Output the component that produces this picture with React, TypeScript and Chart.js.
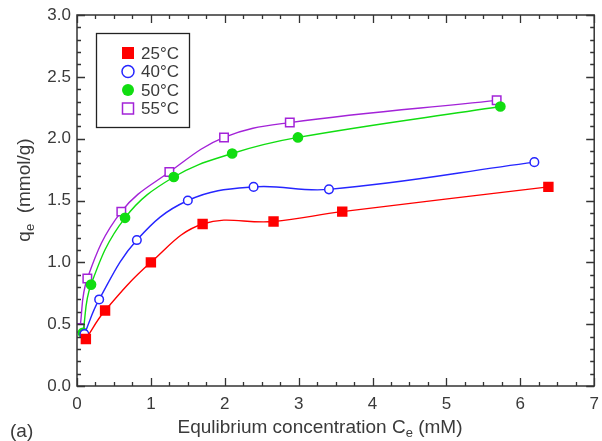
import React, { useEffect, useRef } from "react";
import { Chart, registerables } from "chart.js";
Chart.register(...registerables);

const x25 = [0.12, 0.38, 1.0, 1.7, 2.66, 3.59, 6.38];
const y25 = [0.38, 0.61, 1.0, 1.31, 1.33, 1.41, 1.61];
const x40 = [0.1, 0.3, 0.81, 1.5, 2.39, 3.41, 6.19];
const y40 = [0.42, 0.7, 1.18, 1.5, 1.61, 1.59, 1.81];
const x50 = [0.08, 0.19, 0.65, 1.31, 2.1, 2.99, 5.73];
const y50 = [0.43, 0.82, 1.36, 1.69, 1.88, 2.01, 2.26];
const x55 = [0.04, 0.14, 0.6, 1.25, 1.99, 2.88, 5.68];
const y55 = [0.47, 0.87, 1.41, 1.73, 2.01, 2.13, 2.31];
const seriesLabels = ["25°C", "40°C", "50°C", "55°C"];
const xTitle = "Equlibrium concentration C";
const yTitle = "q";

const FONT = "'Liberation Sans', Arial, sans-serif";
const TXT = "#3a3a3a";

const pts = (xs: number[], ys: number[]) => xs.map((x, i) => ({ x, y: ys[i] }));

const styles = [
  { color: "#ff0000", style: "rect", fill: true, r: 6.3 },
  { color: "#2626ff", style: "circle", fill: false, r: 4.3 },
  { color: "#11dd11", style: "circle", fill: true, r: 4.6 },
  { color: "#a323d8", style: "rect", fill: false, r: 6.0 },
];

const framePlugin = {
  id: "frame",
  afterDraw(chart: any) {
    const { ctx, chartArea: a, scales } = chart;
    const xs = scales.x, ys = scales.y;
    ctx.save();
    ctx.strokeStyle = "#333";
    ctx.lineWidth = 1.5;
    ctx.strokeRect(a.left, a.top, a.right - a.left, a.bottom - a.top);
    ctx.lineWidth = 1.3;
    ctx.beginPath();
    for (let i = 0; i <= 28; i++) {
      const v = i * 0.25;
      const px = Math.round(xs.getPixelForValue(v)) + 0.5;
      const len = i % 4 === 0 ? 8 : 4;
      ctx.moveTo(px, a.bottom); ctx.lineTo(px, a.bottom - len);
      ctx.moveTo(px, a.top); ctx.lineTo(px, a.top + len);
    }
    for (let i = 0; i <= 30; i++) {
      const v = i * 0.1;
      const py = Math.round(ys.getPixelForValue(v)) + 0.5;
      const len = i % 5 === 0 ? 8 : 4;
      ctx.moveTo(a.left, py); ctx.lineTo(a.left + len, py);
      ctx.moveTo(a.right, py); ctx.lineTo(a.right - len, py);
    }
    ctx.stroke();

    // legend
    ctx.lineWidth = 1.3;
    ctx.strokeStyle = "#222";
    ctx.strokeRect(96.5, 33.5, 93, 94);
    ctx.font = `17px ${FONT}`;
    ctx.textBaseline = "middle";
    ctx.textAlign = "left";
    styles.forEach((s, i) => {
      const cy = 53 + i * 18.5;
      const cx = 128;
      ctx.strokeStyle = s.color;
      ctx.fillStyle = s.color;
      ctx.lineWidth = 1.5;
      if (s.style === "rect") {
        const h = s.fill ? 6 : 5.5;
        if (s.fill) ctx.fillRect(cx - h, cy - h, 2 * h, 2 * h);
        else ctx.strokeRect(cx - h, cy - h, 2 * h, 2 * h);
      } else {
        ctx.beginPath();
        ctx.arc(cx, cy, 6, 0, Math.PI * 2);
        if (s.fill) ctx.fill(); else ctx.stroke();
      }
      ctx.fillStyle = TXT;
      ctx.fillText(seriesLabels[i], 141, cy + 1);
    });

    // x title with subscript
    const big = `19px ${FONT}`;
    const subFont = `13px ${FONT}`;
    ctx.fillStyle = TXT;
    const rest = " (mM)";
    ctx.font = big;
    const w1 = ctx.measureText(xTitle).width;
    const w3 = ctx.measureText(rest).width;
    ctx.font = subFont;
    const w2 = ctx.measureText("e").width;
    const total = w1 + w2 + w3;
    const sx = 320 - total / 2;
    const ty = 428;
    ctx.textBaseline = "middle";
    ctx.font = big;
    ctx.fillText(xTitle, sx, ty);
    ctx.font = subFont;
    ctx.fillText("e", sx + w1, ty + 5);
    ctx.font = big;
    ctx.fillText(rest, sx + w1 + w2, ty);

    // y title
    ctx.save();
    ctx.translate(25, 190);
    ctx.rotate(-Math.PI / 2);
    const yRest = "  (mmol/g)";
    ctx.font = big;
    const yw1 = ctx.measureText(yTitle).width;
    const yw3 = ctx.measureText(yRest).width;
    ctx.font = subFont;
    const yw2 = ctx.measureText("e").width;
    const yx = -(yw1 + yw2 + yw3) / 2;
    ctx.font = big;
    ctx.fillText(yTitle, yx, 0);
    ctx.font = subFont;
    ctx.fillText("e", yx + yw1, 5);
    ctx.font = big;
    ctx.fillText(yRest, yx + yw1 + yw2, 0);
    ctx.restore();

    // panel label
    ctx.font = big;
    ctx.fillText("(a)", 10, 432);
    ctx.restore();
  },
};

export default function App() {
  const ref = useRef<HTMLCanvasElement>(null);
  useEffect(() => {
    document.body.style.margin = "0";
    const data = [pts(x25, y25), pts(x40, y40), pts(x50, y50), pts(x55, y55)];
    const chart = new Chart(ref.current!, {
      type: "line",
      data: {
        datasets: data.map((d, i) => ({
          label: seriesLabels[i],
          data: d,
          borderColor: styles[i].color,
          borderWidth: 1.4,
          pointStyle: styles[i].style as any,
          pointRadius: styles[i].r,
          pointBorderWidth: 1.5,
          pointBorderColor: styles[i].color,
          pointBackgroundColor: styles[i].fill ? styles[i].color : "#ffffff",
          tension: 0.4,
          fill: false,
        })),
      },
      options: {
        animation: false,
        responsive: false,
        layout: { padding: { top: 15, right: 0, left: 0, bottom: 0 } },
        plugins: { legend: { display: false }, tooltip: { enabled: false } },
        scales: {
          x: {
            type: "linear",
            min: 0,
            max: 7,
            grid: { display: false, drawTicks: false, tickLength: 0 },
            border: { display: false },
            afterFit: (s: any) => { s.height = 55; s.paddingLeft = 0; s.paddingRight = 0; },
            ticks: {
              stepSize: 1,
              padding: 8,
              color: TXT,
              font: { family: FONT, size: 17 },
              maxRotation: 0,
            },
          },
          y: {
            min: 0,
            max: 3,
            grid: { display: false, drawTicks: false, tickLength: 0 },
            border: { display: false },
            afterFit: (s: any) => { s.width = 77; s.paddingTop = 0; s.paddingBottom = 0; },
            ticks: {
              stepSize: 0.5,
              padding: 6,
              color: TXT,
              font: { family: FONT, size: 17 },
              callback: (v: any) => Number(v).toFixed(1),
            },
          },
        },
      },
      plugins: [framePlugin],
    });
    return () => chart.destroy();
  }, []);
  return (
    <div style={{ width: 602, height: 441 }}>
      <canvas ref={ref} width={602} height={441} />
    </div>
  );
}
